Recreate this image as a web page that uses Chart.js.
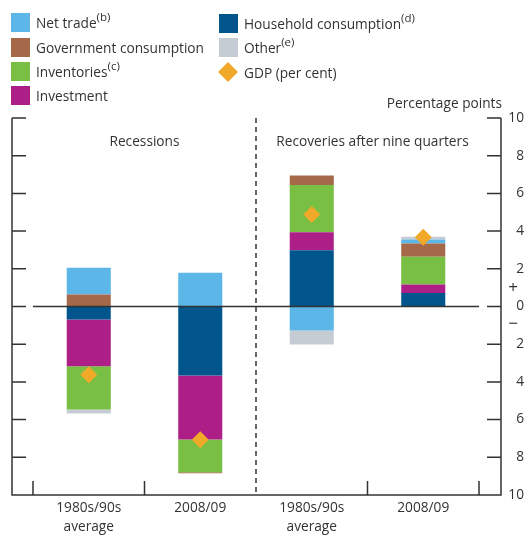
<!DOCTYPE html>
<html>
<head>
<meta charset="utf-8">
<script src="https://cdn.jsdelivr.net/npm/chart.js@4"></script>
<style>
  html, body { margin: 0; padding: 0; background: #fff; }
  #wrap { position: relative; width: 524px; height: 536px; font-family: "Open Sans", sans-serif; color: #333; }
  #chart { position: absolute; left: 0; top: 0; }
  .item { position: absolute; font-size: 13.7px; line-height: 19px; white-space: nowrap; }
  .item .box { position: absolute; left: 0; top: 0; width: 19px; height: 19px; }
  .item .txt { position: absolute; left: 25px; top: 0; }
  .item sup { font-size: 11.5px; vertical-align: 7px; line-height: 0; }
  .diamond { position: absolute; left: 2px; top: 2px; width: 14px; height: 14px; transform: rotate(45deg); }
</style>
</head>
<body>
<div id="wrap">
  <canvas id="chart" width="524" height="536"></canvas>
  <div class="item" style="left:11px;top:13px"><div class="box" style="background:#5cb6e8"></div><span class="txt">Net trade<sup>(b)</sup></span></div>
  <div class="item" style="left:11px;top:38px"><div class="box" style="background:#a5694a"></div><span class="txt">Government consumption</span></div>
  <div class="item" style="left:11px;top:62px"><div class="box" style="background:#78bf44"></div><span class="txt">Inventories<sup>(c)</sup></span></div>
  <div class="item" style="left:11px;top:86px"><div class="box" style="background:#ad1e86"></div><span class="txt">Investment</span></div>
  <div class="item" style="left:219px;top:14px"><div class="box" style="background:#00568c"></div><span class="txt">Household consumption<sup>(d)</sup></span></div>
  <div class="item" style="left:219px;top:38px"><div class="box" style="background:#c6ccd3"></div><span class="txt">Other<sup>(e)</sup></span></div>
  <div class="item" style="left:219px;top:63px"><div class="diamond" style="background:#f0a928"></div><span class="txt">GDP (per cent)</span></div>
</div>
<script>
// values, percentage points
const categories = [['1980s/90s', 'average'], '2008/09', ['1980s/90s', 'average'], '2008/09'];
const household = [-0.69, -3.66, 2.99, 0.71];
const investment = [-2.48, -3.40, 0.95, 0.46];
const inventories = [-2.29, -1.73, 2.50, 1.47];
const government = [0.64, -0.05, 0.51, 0.70];
const netTrade = [1.41, 1.79, -1.27, 0.21];
const other = [-0.22, 0, -0.75, 0.15];
const gdp = [-3.62, -7.07, 4.88, 3.68];
const yTicks = [-10, -8, -6, -4, -2, 0, 2, 4, 6, 8, 10];

const ink = '#333';
const font = '"Open Sans", sans-serif';
const fontSize = 13.7;

// frame, tick marks, zero line, divider and panel titles
const framePlugin = {
    id: 'frame',
    afterDraw(chart) {
        const {ctx, chartArea: a, scales: {x, y}} = chart;
        const left = a.left - 21, right = a.right + 22;
        ctx.save();
        ctx.strokeStyle = ink;
        ctx.lineWidth = 1.5;
        ctx.beginPath();
        ctx.moveTo(left, a.top);
        ctx.lineTo(left, a.bottom);
        ctx.lineTo(right, a.bottom);
        ctx.lineTo(right, a.top);
        yTicks.forEach((v) => {
            const py = y.getPixelForValue(v);
            ctx.moveTo(left, py);
            ctx.lineTo(left + 14, py);
            ctx.moveTo(right - 14, py);
            ctx.lineTo(right, py);
        });
        [-0.5, 0.5, 2.5, 3.5].forEach((v) => {
            const px = x.getPixelForValue(v);
            ctx.moveTo(px, a.bottom);
            ctx.lineTo(px, a.bottom - 14);
        });
        const zy = y.getPixelForValue(0);
        ctx.moveTo(a.left, zy);
        ctx.lineTo(a.right, zy);
        ctx.stroke();

        ctx.setLineDash([5, 4]);
        ctx.beginPath();
        const dx = x.getPixelForValue(1.5);
        ctx.moveTo(dx, a.top);
        ctx.lineTo(dx, a.bottom);
        ctx.stroke();
        ctx.setLineDash([]);

        ctx.fillStyle = ink;
        ctx.font = fontSize + 'px ' + font;
        ctx.textBaseline = 'middle';
        ctx.textAlign = 'center';
        ctx.fillText('Recessions', x.getPixelForValue(0.5), a.top + 24);
        ctx.fillText('Recoveries after nine quarters', x.getPixelForValue(2.5) + 5, a.top + 24);
        ctx.textAlign = 'right';
        ctx.fillText('Percentage points', right + 1, a.top - 14);
        ctx.textAlign = 'center';
        ctx.font = '17px ' + font;
        ctx.fillText('+', right + 12, zy - 18);
        ctx.fillText('\u2212', right + 12, zy + 18);
        ctx.restore();
    }
};

const barSet = (label, data, color) => ({
    type: 'bar', label, data, backgroundColor: color, borderWidth: 0,
    barPercentage: 0.395, categoryPercentage: 1, stack: 'parts', order: 2
});

new Chart(document.getElementById('chart'), {
    data: {
        labels: categories,
        datasets: [
            barSet('Household consumption', household, '#00568c'),
            barSet('Investment', investment, '#ad1e86'),
            barSet('Inventories', inventories, '#78bf44'),
            barSet('Government consumption', government, '#a5694a'),
            barSet('Net trade', netTrade, '#5cb6e8'),
            barSet('Other', other, '#c6ccd3'),
            {
                type: 'line', label: 'GDP (per cent)', data: gdp, stack: 'gdp', order: 1,
                showLine: false, pointStyle: 'rectRot', pointRadius: 8.5,
                backgroundColor: '#f0a928', borderColor: '#f0a928', borderWidth: 0
            }
        ]
    },
    options: {
        responsive: false,
        animation: false,
        layout: {padding: {left: 33, top: 118, right: 0, bottom: 0}},
        plugins: {legend: {display: false}, tooltip: {enabled: false}},
        scales: {
            x: {
                stacked: true,
                grid: {display: false},
                border: {display: false},
                ticks: {color: ink, font: {family: font, size: fontSize, lineHeight: 1.38}, padding: -4, maxRotation: 0, autoSkip: false},
                afterFit: (s) => { s.height = 41; }
            },
            y: {
                stacked: true,
                position: 'right',
                min: -10, max: 10,
                afterBuildTicks: (s) => { s.ticks = yTicks.map((v) => ({value: v})); },
                grid: {display: false},
                border: {display: false},
                ticks: {
                    color: ink, font: {family: font, size: fontSize}, padding: 27, crossAlign: 'far',
                    callback: (v) => Math.abs(v)
                },
                afterFit: (s) => { s.width = 45; }
            }
        }
    },
    plugins: [framePlugin]
});
</script>
</body>
</html>
